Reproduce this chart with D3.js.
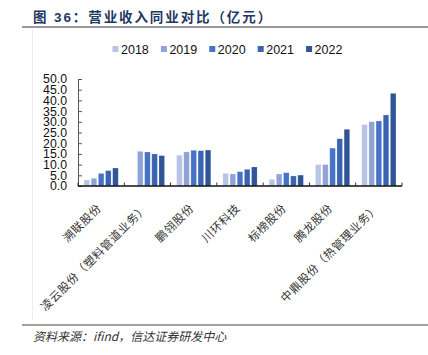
<!DOCTYPE html>
<html>
<head>
<meta charset="utf-8">
<script src="https://cdn.jsdelivr.net/npm/d3@7"></script>
<style>
html,body{margin:0;padding:0;background:#fff;}
svg{display:block;}
</style>
</head>
<body>
<svg id="chart" width="428" height="355"></svg>
<script>
const categories = ['溯联股份','凌云股份（塑料管道业务）','鹏翎股份','川环科技','标榜股份','腾龙股份','中鼎股份（热管理业务）'];
const years = ['2018','2019','2020','2021','2022'];
const v2018 = [2.8, null, 14.4, 5.9, 3.1, 10.0, 28.7];
const v2019 = [3.6, 16.2, 15.9, 5.6, 5.6, 10.0, 30.0];
const v2020 = [5.9, 15.9, 16.7, 6.7, 6.2, 17.7, 30.4];
const v2021 = [7.2, 15.0, 16.5, 7.8, 4.7, 22.1, 33.2];
const v2022 = [8.4, 14.2, 16.8, 8.9, 5.1, 26.5, 43.3];
const yTicks = [0,5,10,15,20,25,30,35,40,45,50];
const colors = ['#b7c4e4','#8fa3d8','#4673c6','#3a64b3','#2f5597'];
const seriesValues = [v2018, v2019, v2020, v2021, v2022];

const svg = d3.select('#chart');
const latin = 'Arial, "Liberation Sans", sans-serif';
const cjk = '"Noto Sans CJK SC", sans-serif';

// title
svg.append('text').attr('x',33).attr('y',22)
  .style('font-family', latin + ',' + cjk).style('font-weight','bold')
  .style('font-size','13.5px').style('letter-spacing','1.9px').attr('fill','#1f3864')
  .text('图 36：营业收入同业对比（亿元）');
svg.append('line').attr('x1',22).attr('x2',428).attr('y1',27).attr('y2',27)
  .attr('stroke','#777').attr('stroke-width',1.4);

// faint chart area border
svg.append('line').attr('x1',32.5).attr('x2',32.5).attr('y1',29).attr('y2',320)
  .attr('stroke','#ececec').attr('stroke-width',1);

// bottom line and source
svg.append('line').attr('x1',22).attr('x2',428).attr('y1',325).attr('y2',325)
  .attr('stroke','#444').attr('stroke-width',1);
svg.append('text').attr('x',33).attr('y',341)
  .style('font-family', cjk).style('font-style','italic')
  .style('font-size','12px').attr('fill','#333')
  .text('资料来源：ifind，信达证券研发中心');

// scales
const x0 = d3.scaleBand().domain(categories).range([78,402]).paddingInner(0.26).paddingOuter(0.13);
const x1 = d3.scaleBand().domain(years).range([0, x0.bandwidth()]).paddingInner(0.22);
const y = d3.scaleLinear().domain([0,50]).range([186,79]);

// bars
const g = svg.append('g');
categories.forEach((c, ci) => {
  years.forEach((yr, si) => {
    const v = seriesValues[si][ci];
    if (v == null) return;
    g.append('rect')
      .attr('x', x0(c) + x1(yr))
      .attr('y', y(v))
      .attr('width', x1.bandwidth())
      .attr('height', y(0) - y(v))
      .attr('fill', colors[si])
      .attr('stroke', 'rgba(255,255,255,0.35)').attr('stroke-width',0.6);
  });
});

// y axis
const yAxis = d3.axisLeft(y).tickValues(yTicks).tickFormat(d3.format('.1f'))
  .tickSizeInner(-4).tickSizeOuter(0).tickPadding(11);
const ya = svg.append('g').attr('transform','translate(78,0)').call(yAxis);
ya.select('.domain').attr('stroke','#555').attr('stroke-width',1);
ya.selectAll('.tick line').attr('stroke','#555');
ya.selectAll('.tick text').style('font-family',latin).style('font-size','12.3px').attr('fill','#111');

// x axis
const boundaries = categories.map(c => x0(c) - x0.step()*x0.paddingInner()/2);
boundaries.push(402);
svg.append('line').attr('x1',78).attr('x2',402).attr('y1',y(0)).attr('y2',y(0))
  .attr('stroke','#111').attr('stroke-width',1.4);
svg.selectAll('.xtick').data(boundaries).enter().append('line')
  .attr('x1',d=>d).attr('x2',d=>d).attr('y1',y(0)).attr('y2',y(0)-3.5)
  .attr('stroke','#333').attr('stroke-width',1);

// x labels
svg.selectAll('.xlab').data(categories).enter().append('text')
  .attr('transform', d => `translate(${x0(d)+x0.bandwidth()/2-2},${y(0)+20}) rotate(-45)`)
  .attr('dy','0.35em').attr('text-anchor','end')
  .style('font-family',cjk).style('font-size','11.5px').style('letter-spacing','0.6px')
  .attr('fill','#333').text(d=>d);

// legend
const leg = svg.append('g').attr('transform','translate(112.5,49)');
years.forEach((yr, i) => {
  const gi = leg.append('g').attr('transform',`translate(${i*48.4},0)`);
  gi.append('rect').attr('x',0).attr('y',-3).attr('width',6).attr('height',6).attr('fill',colors[i]);
  gi.append('text').attr('x',8.5).attr('y',4.5)
    .style('font-family',latin).style('font-size','12.5px').attr('fill','#111').text(yr);
});
</script>
</body>
</html>
